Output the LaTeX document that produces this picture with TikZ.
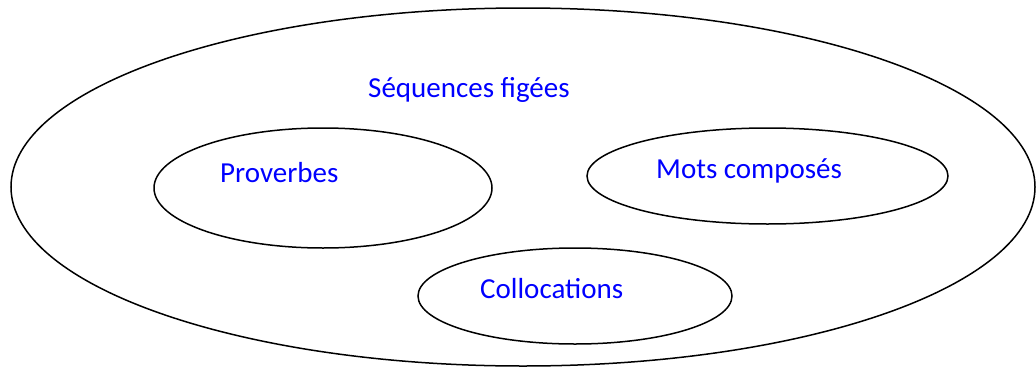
\documentclass[tikz,border=0pt]{standalone}
\usepackage{fontspec}
\setmainfont{Carlito}
\usetikzlibrary{shapes.geometric}
\definecolor{lblue}{RGB}{0,0,255}
\tikzset{
  oval/.style={draw=black, line width=1.5pt, ellipse, inner sep=0pt},
  lbl/.style={text=lblue, anchor=base west, inner sep=0pt, font=\fontsize{29}{34}\selectfont}
}
\begin{document}
\begin{tikzpicture}[x=1pt,y=-1pt]
\useasboundingbox (0,0) rectangle (1036,367);
\node[oval, minimum width=1024pt, minimum height=358pt] (outer) at (523,187) {};
\node[oval, minimum width=338pt, minimum height=120pt] (prov) at (323,188) {};
\node[oval, minimum width=361pt, minimum height=96pt] (mots) at (767.5,176) {};
\node[oval, minimum width=314pt, minimum height=96pt] (coll) at (575,296) {};
\node[lbl] (tseq) at (368,97) {Séquences figées};
\node[lbl] (tprov) at (220,182) {Proverbes};
\node[lbl] (tmots) at (656,178) {Mots composés};
\node[lbl] (tcoll) at (480,298) {Collocations};
\end{tikzpicture}
\end{document}
